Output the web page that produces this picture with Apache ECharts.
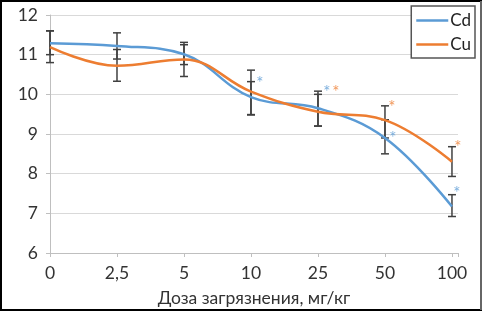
<!DOCTYPE html>
<html>
<head>
<meta charset="utf-8">
<script src="https://cdn.jsdelivr.net/npm/echarts@6/dist/echarts.min.js"></script>
<style>
  html, body { margin: 0; padding: 0; background: #fff; }
  #chart { width: 486px; height: 313px; }
</style>
</head>
<body>
<div id="chart"></div>
<script>
const categories = ['0', '2,5', '5', '10', '25', '50', '100']
const cdValues = [11.29, 11.22, 11.01, 9.93, 9.65, 8.9, 7.17]
const cuValues = [11.19, 10.72, 10.88, 10.07, 9.56, 9.35, 8.3]
// error bar ends
const cdLow = [11.0, 10.89, 10.75, 9.48, 9.2, 8.5, 6.92]
const cdHigh = [11.6, 11.55, 11.25, 10.32, 10.0, 9.36, 7.47]
const cuLow = [10.8, 10.33, 10.45, 9.49, 9.2, 8.9, 7.93]
const cuHigh = [11.6, 11.13, 11.31, 10.61, 10.08, 9.71, 8.68]
// significance marks (*), position of each star
const cdStars = [null, null, null, 10.3, 10.06, 8.92, 7.52]
const cuStars = [null, null, null, null, 10.06, 9.7, 8.68]
const yTicks = [6, 7, 8, 9, 10, 11, 12]

const font = 'Lato, "Noto Sans", sans-serif'
const blue = '#5b9bd5'
const orange = '#ed7d31'

const chart = echarts.init(document.getElementById('chart'))

function pairs(arr) {
  return arr.map((v, i) => [i, v])
}

function errorSeries(name, low, high) {
  return {
    name: name + ' err',
    type: 'custom',
    z: 3,
    data: low.map((v, i) => [i, v, high[i]]),
    renderItem(params, api) {
      const lo = api.coord([api.value(0), api.value(1)])
      const hi = api.coord([api.value(0), api.value(2)])
      const w = 4
      const style = { stroke: '#404040', lineWidth: 1.5 }
      return {
        type: 'group',
        children: [
          { type: 'line', shape: { x1: lo[0], y1: lo[1], x2: hi[0], y2: hi[1] }, style },
          { type: 'line', shape: { x1: lo[0] - w, y1: lo[1], x2: lo[0] + w, y2: lo[1] }, style },
          { type: 'line', shape: { x1: hi[0] - w, y1: hi[1], x2: hi[0] + w, y2: hi[1] }, style }
        ]
      }
    }
  }
}

function starSeries(name, stars, color, offsets) {
  return {
    name: name + ' star',
    type: 'scatter',
    symbolSize: 0,
    z: 5,
    data: stars.map((v, i) => v === null ? null : { value: [i, v], label: { offset: [offsets[i], 1] } }),
    label: {
      show: true,
      position: 'inside',
      formatter: '*',
      color: color,
      fontSize: 17,
      fontFamily: font
    }
  }
}

chart.setOption({
  animation: false,
  textStyle: { fontFamily: font },
  graphic: [
    { type: 'rect', shape: { x: 1, y: 1, width: 480, height: 309 }, style: { fill: 'none', stroke: '#000', lineWidth: 2 }, z: 100 },
    { type: 'line', shape: { x1: 481, y1: 1, x2: 481, y2: 310 }, style: { stroke: '#888', lineWidth: 1.5 }, z: 101 }
  ],
  grid: { left: 50, right: 28, top: 15, bottom: 60 },
  legend: {
    data: ['Cd', 'Cu'],
    orient: 'vertical',
    right: 11,
    top: 6,
    width: 64,
    padding: [6, 4, 5, 5],
    itemGap: 7,
    itemWidth: 32,
    itemHeight: 2.5,
    icon: 'rect',
    backgroundColor: '#fff',
    borderColor: '#555',
    borderWidth: 1.5,
    borderRadius: 0,
    textStyle: { fontSize: 17, color: '#222', fontFamily: font, padding: [0, 0, 0, -3] }
  },
  xAxis: {
    type: 'value',
    min: 0,
    max: 6.09,
    interval: 1,
    name: 'Доза загрязнения, мг/кг',
    nameLocation: 'middle',
    nameGap: 36,
    nameTextStyle: { fontSize: 17.5, color: '#333', fontFamily: font },
    axisLine: { show: true, lineStyle: { color: '#bfbfbf', width: 1 } },
    axisTick: { show: true, length: 4, lineStyle: { color: '#bfbfbf' } },
    splitLine: { show: false },
    axisLabel: {
      margin: 11,
      fontSize: 17.5,
      color: '#333',
      formatter(v) {
        return Number.isInteger(v) ? categories[v] : ''
      }
    }
  },
  yAxis: {
    type: 'value',
    min: yTicks[0],
    max: yTicks[yTicks.length - 1],
    interval: 1,
    axisLine: { show: true, lineStyle: { color: '#bfbfbf', width: 1 } },
    axisTick: { show: true, length: 4, lineStyle: { color: '#bfbfbf' } },
    splitLine: { lineStyle: { color: '#d9d9d9', width: 1.2 } },
    axisLabel: { margin: 12, fontSize: 17.5, color: '#333' }
  },
  series: [
    errorSeries('Cd', cdLow, cdHigh),
    errorSeries('Cu', cuLow, cuHigh),
    {
      name: 'Cd',
      type: 'line',
      smooth: 0.4,
      symbol: 'none',
      color: blue,
      lineStyle: { color: blue, width: 2.5 },
      data: pairs(cdValues),
      z: 4
    },
    {
      name: 'Cu',
      type: 'line',
      smooth: 0.4,
      symbol: 'none',
      color: orange,
      lineStyle: { color: orange, width: 2.5 },
      data: pairs(cuValues),
      z: 4
    },
    starSeries('Cd', cdStars, blue, [0, 0, 0, 9, 9, 8, 5]),
    starSeries('Cu', cuStars, orange, [0, 0, 0, 0, 18, 7, 6])
  ]
})
</script>
</body>
</html>
